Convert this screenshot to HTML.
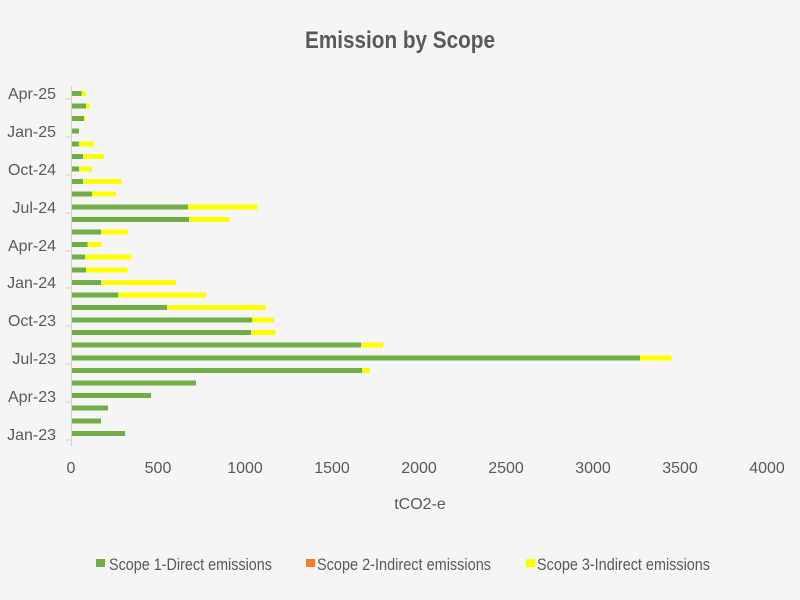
<!DOCTYPE html>
<html><head><meta charset="utf-8"><style>body{margin:0;background:#f5f5f5}svg{display:block}</style></head>
<body>
<svg width="800" height="600" xmlns="http://www.w3.org/2000/svg" font-family="Liberation Sans, sans-serif">
<rect width="800" height="600" fill="#f5f5f5"/>
<text x="400" y="48" text-anchor="middle" font-size="24" font-weight="bold" fill="#595959" textLength="190" lengthAdjust="spacingAndGlyphs">Emission by Scope</text>
<line x1="71.5" y1="86" x2="71.5" y2="446" stroke="#d0d0d0" stroke-width="1"/>
<g stroke="#d0d0d0"><line x1="66" y1="99" x2="71" y2="99"/><line x1="66" y1="137" x2="71" y2="137"/><line x1="66" y1="175" x2="71" y2="175"/><line x1="66" y1="213" x2="71" y2="213"/><line x1="66" y1="251" x2="71" y2="251"/><line x1="66" y1="288" x2="71" y2="288"/><line x1="66" y1="326" x2="71" y2="326"/><line x1="66" y1="364" x2="71" y2="364"/><line x1="66" y1="402" x2="71" y2="402"/><line x1="66" y1="440" x2="71" y2="440"/></g>
<g font-size="16" fill="#595959" text-anchor="end">
<text x="56" y="99">Apr-25</text><text x="56" y="137">Jan-25</text><text x="56" y="175">Oct-24</text><text x="56" y="213">Jul-24</text><text x="56" y="251">Apr-24</text><text x="56" y="288">Jan-24</text><text x="56" y="326">Oct-23</text><text x="56" y="364">Jul-23</text><text x="56" y="402">Apr-23</text><text x="56" y="440">Jan-23</text>
</g>
<g font-size="16" fill="#595959" text-anchor="middle">
<text x="71" y="473">0</text><text x="158" y="473">500</text><text x="245" y="473">1000</text><text x="332" y="473">1500</text><text x="419" y="473">2000</text><text x="506" y="473">2500</text><text x="593" y="473">3000</text><text x="680" y="473">3500</text><text x="767" y="473">4000</text>
<text x="420" y="509">tCO2-e</text>
</g>
<rect x="96" y="559" width="9" height="8" fill="#70ad47"/>
<text x="109" y="570" font-size="17" fill="#595959" textLength="163" lengthAdjust="spacingAndGlyphs">Scope 1-Direct emissions</text>
<rect x="306" y="559" width="9" height="8" fill="#ed7d31"/>
<text x="317" y="570" font-size="17" fill="#595959" textLength="174" lengthAdjust="spacingAndGlyphs">Scope 2-Indirect emissions</text>
<rect x="526" y="559" width="9" height="8" fill="#ffff00"/>
<text x="537" y="570" font-size="17" fill="#595959" textLength="173" lengthAdjust="spacingAndGlyphs">Scope 3-Indirect emissions</text>
<g>
<rect x="72" y="91" width="9.7" height="5" fill="#70ad47"/><rect x="81.7" y="91" width="3.3" height="5" fill="#ffff00"/>
<rect x="72" y="103.5" width="14" height="5" fill="#70ad47"/><rect x="86" y="103.5" width="3" height="5" fill="#ffff00"/>
<rect x="72" y="116" width="12" height="5" fill="#70ad47"/><rect x="84" y="116" width="1" height="5" fill="#ffff00"/>
<rect x="72" y="128.5" width="7" height="5" fill="#70ad47"/>
<rect x="72" y="141.5" width="7" height="5" fill="#70ad47"/><rect x="79" y="141.5" width="14" height="5" fill="#ffff00"/>
<rect x="72" y="154" width="11" height="5" fill="#70ad47"/><rect x="83" y="154" width="21" height="5" fill="#ffff00"/>
<rect x="72" y="166.5" width="7" height="5" fill="#70ad47"/><rect x="79" y="166.5" width="13" height="5" fill="#ffff00"/>
<rect x="72" y="179" width="11" height="5" fill="#70ad47"/><rect x="83" y="179" width="38" height="5" fill="#ffff00"/>
<rect x="72" y="191.5" width="20" height="5" fill="#70ad47"/><rect x="92" y="191.5" width="24" height="5" fill="#ffff00"/>
<rect x="72" y="204.5" width="116" height="5" fill="#70ad47"/><rect x="188" y="204.5" width="69" height="5" fill="#ffff00"/>
<rect x="72" y="217" width="117" height="5" fill="#70ad47"/><rect x="189" y="217" width="40" height="5" fill="#ffff00"/>
<rect x="72" y="229.5" width="29" height="5" fill="#70ad47"/><rect x="101" y="229.5" width="27" height="5" fill="#ffff00"/>
<rect x="72" y="242" width="15.5" height="5" fill="#70ad47"/><rect x="87.5" y="242" width="13.5" height="5" fill="#ffff00"/>
<rect x="72" y="254.5" width="13" height="5" fill="#70ad47"/><rect x="85" y="254.5" width="46" height="5" fill="#ffff00"/>
<rect x="72" y="267.5" width="14" height="5" fill="#70ad47"/><rect x="86" y="267.5" width="41" height="5" fill="#ffff00"/>
<rect x="72" y="280" width="29" height="5" fill="#70ad47"/><rect x="101" y="280" width="75" height="5" fill="#ffff00"/>
<rect x="72" y="292.5" width="46" height="5" fill="#70ad47"/><rect x="118" y="292.5" width="88" height="5" fill="#ffff00"/>
<rect x="72" y="305" width="95" height="5" fill="#70ad47"/><rect x="167" y="305" width="98" height="5" fill="#ffff00"/>
<rect x="72" y="317.5" width="180" height="5" fill="#70ad47"/><rect x="252" y="317.5" width="22" height="5" fill="#ffff00"/>
<rect x="72" y="330" width="179" height="5" fill="#70ad47"/><rect x="251" y="330" width="24" height="5" fill="#ffff00"/>
<rect x="72" y="342.5" width="289" height="5" fill="#70ad47"/><rect x="361" y="342.5" width="22" height="5" fill="#ffff00"/>
<rect x="72" y="355.5" width="568" height="5" fill="#70ad47"/><rect x="640" y="355.5" width="31" height="5" fill="#ffff00"/>
<rect x="72" y="368" width="290" height="5" fill="#70ad47"/><rect x="362" y="368" width="8" height="5" fill="#ffff00"/>
<rect x="72" y="380.5" width="124" height="5" fill="#70ad47"/>
<rect x="72" y="393" width="79" height="5" fill="#70ad47"/>
<rect x="72" y="405.5" width="36" height="5" fill="#70ad47"/>
<rect x="72" y="418.5" width="29" height="5" fill="#70ad47"/>
<rect x="72" y="431" width="53" height="5" fill="#70ad47"/>
</g>
</svg>
</body></html>
